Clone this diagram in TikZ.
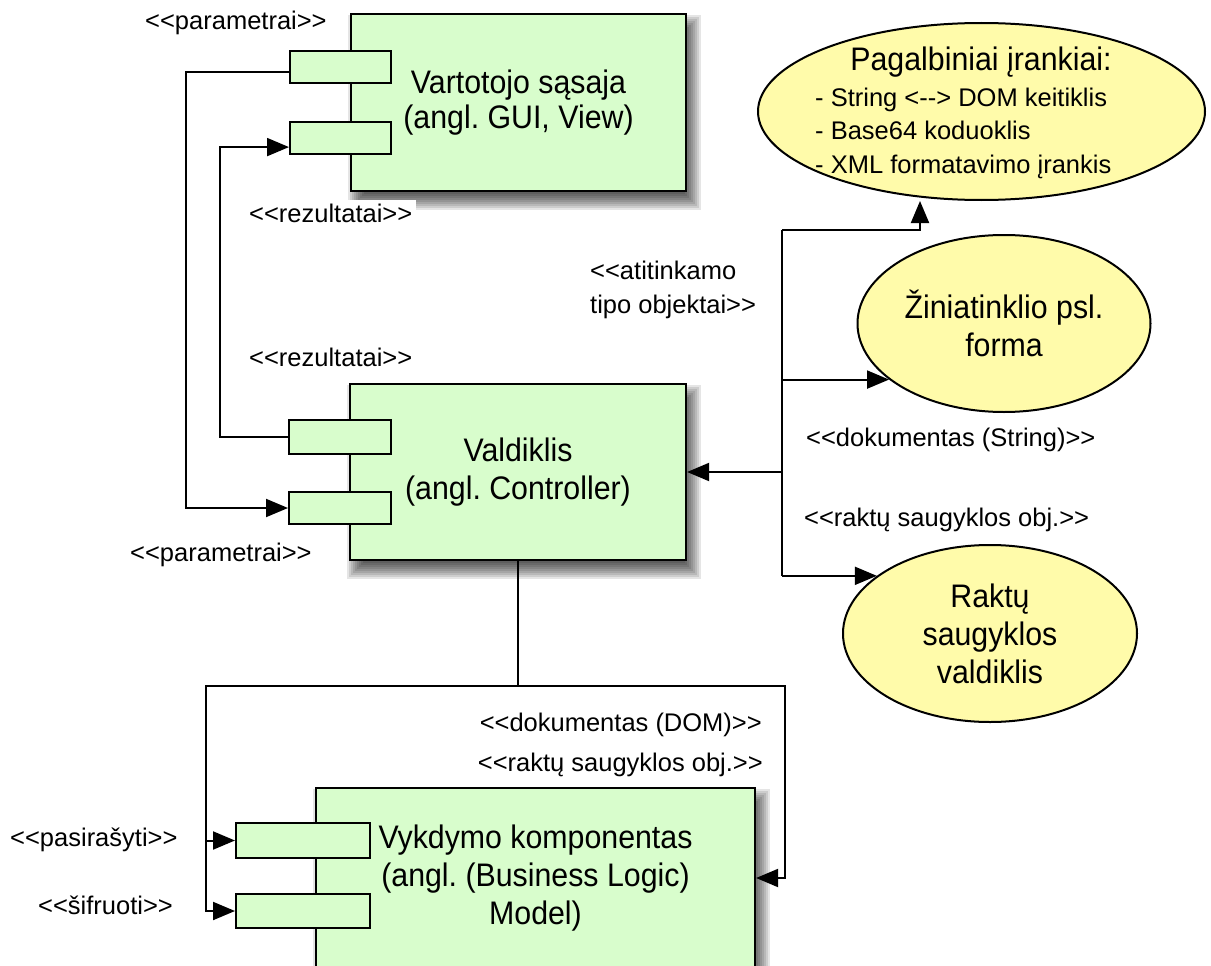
\documentclass[tikz,border=0pt]{standalone}
\usepackage{fontspec}
\newfontfamily\labfamily{Liberation Sans}
\newfontfamily\bigfamily[FakeStretch=0.93]{Liberation Sans}
\usetikzlibrary{arrows.meta,shapes.geometric,backgrounds}

\definecolor{boxgreen}{RGB}{216,253,204}
\definecolor{ellyellow}{RGB}{255,251,170}

\tikzset{
  big/.style={font=\bigfamily\fontsize{32.6}{38}\selectfont},
  small/.style={font=\labfamily\fontsize{25.5}{33.5}\selectfont},
  comp/.style={draw, line width=2.2pt, fill=boxgreen, inner sep=0pt, big, align=center},
  port/.style={draw, line width=2pt, fill=boxgreen, inner sep=0pt},
  oval/.style={ellipse, draw, line width=2pt, fill=ellyellow, inner sep=0pt, big, align=center},
  wire/.style={line width=2pt},
  arr/.style={wire, -{Triangle[length=22pt,width=18pt]}},
  tag/.style={small, inner sep=0pt},
  shade layer/.style={fill=black, opacity=0.1},
}

% soft drop shadow behind a component box, built from stacked translucent rectangles
\newcommand\boxshade[1]{%
  \foreach \d in {-8,-6,...,8}{%
    \fill[shade layer]
      ([xshift={6pt+(\d pt)}, yshift={-10pt-(\d pt)}]#1.north west) rectangle
      ([xshift={6pt-(\d pt)}, yshift={-10pt+(\d pt)}]#1.south east);}}

\begin{document}
\frenchspacing
\begin{tikzpicture}[x=1pt,y=-1pt]
\begin{scope}[on background layer]
  \fill[white] (0,0) rectangle (1211,966);
\end{scope}
\useasboundingbox (0,0) rectangle (1211,966);

% components
\node[comp, minimum width=335pt, minimum height=177pt] (vbox) at (518.5,102.5)
  {\raisebox{-4pt}{\shortstack{Vartotojo sąsaja\\[2pt](angl. GUI, View)}}};
\node[port, minimum width=101pt, minimum height=32pt] (vp1) at (340.5,67) {};
\node[port, minimum width=101pt, minimum height=32pt] (vp2) at (340.5,138) {};

\node[comp, minimum width=336pt, minimum height=176pt] (cbox) at (518,472)
  {Valdiklis\\(angl. Controller)};
\node[port, minimum width=102pt, minimum height=34pt] (cp1) at (340,437) {};
\node[port, minimum width=102pt, minimum height=32pt] (cp2) at (340,508) {};

\node[comp, minimum width=439pt, minimum height=180pt] (mbox) at (535.5,878)
  {Vykdymo komponentas\\(angl. (Business Logic)\\Model)};
\node[port, minimum width=134pt, minimum height=35pt] (mp1) at (303,840.5) {};
\node[port, minimum width=134pt, minimum height=34pt] (mp2) at (303,911) {};

\begin{scope}[on background layer]
  \boxshade{vbox}
  \boxshade{cbox}
  \boxshade{mbox}
\end{scope}

% helper services
\node[oval, minimum width=447pt, minimum height=177pt] (e1) at (981.5,111.5) {};
\node[big, inner sep=0pt] (e1t) at (981,62) {Pagalbiniai įrankiai:};
\node[tag, align=left, anchor=west] (e1i) at (815,133)
  {- String <--> DOM keitiklis\\- Base64 koduoklis\\- XML formatavimo įrankis};
\node[oval, minimum width=293pt, minimum height=177pt] (e2) at (1004,323.5)
  {Žiniatinklio psl.\\forma};
\node[oval, minimum width=294pt, minimum height=177pt] (e3) at (990,633.5)
  {Raktų\\saugyklos\\valdiklis};

% labels
\node[tag, anchor=west] (lpar1) at (145,23) {<<parametrai>>};
\node[tag, anchor=west, fill=white, inner sep=4pt] (lres1) at (245,213) {<<rezultatai>>};
\node[tag, anchor=west] (lres2) at (249,357) {<<rezultatai>>};
\node[tag, anchor=west] (lpar2) at (130,555) {<<parametrai>>};
\node[tag, anchor=west, align=left] (lobj) at (590,290) {<<atitinkamo\\tipo objektai>>};
\node[tag, anchor=west] (ldocs) at (806,440) {<<dokumentas (String)>>};
\node[tag, anchor=west] (lkey1) at (804,520) {<<raktų saugyklos obj.>>};
\node[tag, anchor=east] (ldom) at (762,725) {<<dokumentas (DOM)>>};
\node[tag, anchor=east] (lkey2) at (763,765) {<<raktų saugyklos obj.>>};
\node[tag, anchor=west] (lsign) at (10,840) {<<pasirašyti>>};
\node[tag, anchor=west] (lenc) at (38,905) {<<šifruoti>>};

% view <-> controller
\coordinate (xo) at (186,0);
\coordinate (xi) at (220,0);
\draw[arr] (vp1.185) -| (xo |- cp2.west) -- (cp2.west);
\draw[arr] (cp1.west) -| (xi |- vp2.190) -- (vp2.190);

% controller <-> helper services
\coordinate (bx) at (782,0);
\coordinate (t1) at (920,230);
\draw[wire] (bx |- t1) -- (bx |- e3.153);
\draw[arr] (bx |- t1) -- (t1) -- (t1 |- e1.south);
\draw[arr] (bx |- e2.206) -- (e2.206);
\draw[arr] (bx |- e3.153) -- (e3.153);
\draw[arr] (bx |- cbox.east) -- (cbox.east);

% controller -> model
\coordinate (bl) at (206,686);
\coordinate (br) at (785,686);
\draw[arr] (cbox.south) |- (bl) |- (mp1.west);
\draw[arr] (bl) |- (mp2.west);
\draw[arr] (cbox.south |- bl) -- (br) |- (mbox.east);
\end{tikzpicture}
\end{document}
